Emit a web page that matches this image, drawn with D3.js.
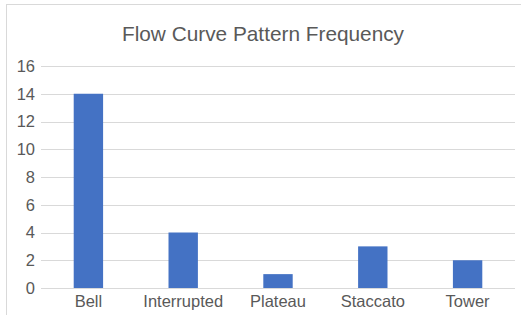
<!DOCTYPE html>
<html>
<head>
<meta charset="utf-8">
<script src="https://cdn.jsdelivr.net/npm/d3@7"></script>
<style>
  body { margin: 0; background: #fff; }
  text { font-family: "Liberation Sans", Arial, sans-serif; fill: #595959; }
</style>
</head>
<body>
<div id="chart"></div>
<script>
// data
var categories = ["Bell", "Interrupted", "Plateau", "Staccato", "Tower"];
var counts = [14, 4, 1, 3, 2];
var yTicks = [0, 2, 4, 6, 8, 10, 12, 14, 16];

var W = 521, H = 315;
var margin = {top: 66, right: 6, bottom: 27, left: 41};
var width = W - margin.left - margin.right,
    height = H - margin.top - margin.bottom;

var svg = d3.select("#chart").append("svg")
    .attr("width", W)
    .attr("height", H);

// chart area border
svg.append("rect")
    .attr("x", 6.5).attr("y", 4.5)
    .attr("width", W + 10).attr("height", H + 10)
    .attr("fill", "none")
    .attr("stroke", "#d9d9d9");

svg.append("text")
    .attr("x", 263)
    .attr("y", 41)
    .attr("text-anchor", "middle")
    .style("font-size", "20.8px")
    .text("Flow Curve Pattern Frequency");

var g = svg.append("g")
    .attr("transform", "translate(" + margin.left + "," + margin.top + ")");

var x = d3.scaleBand()
    .domain(categories)
    .range([0, width])
    .paddingInner(0.69)
    .paddingOuter(0.345);

var y = d3.scaleLinear()
    .domain([0, 16])
    .range([height, 0]);

// gridlines
g.selectAll(".grid")
    .data(yTicks)
  .enter().append("line")
    .attr("class", "grid")
    .attr("x1", 0).attr("x2", width)
    .attr("y1", function(d) { return Math.round(y(d)) + 0.5; })
    .attr("y2", function(d) { return Math.round(y(d)) + 0.5; })
    .attr("stroke", "#d9d9d9")
    .attr("stroke-width", 1);

// bars
g.selectAll(".bar")
    .data(counts)
  .enter().append("rect")
    .attr("class", "bar")
    .attr("x", function(d, i) { return x(categories[i]); })
    .attr("width", x.bandwidth())
    .attr("y", function(d) { return y(d); })
    .attr("height", function(d) { return height - y(d); })
    .attr("fill", "#4472c4");

// y axis labels
var yAxis = g.append("g")
    .call(d3.axisLeft(y).tickValues(yTicks).tickSize(0).tickPadding(6));
yAxis.select(".domain").remove();
yAxis.selectAll("text")
    .style("font-size", "16.5px")
    .style("font-family", "'Liberation Sans', Arial, sans-serif")
    .attr("fill", "#595959");

// x axis labels
var xAxis = g.append("g")
    .attr("transform", "translate(0," + height + ")")
    .call(d3.axisBottom(x).tickSize(0).tickPadding(7));
xAxis.select(".domain").remove();
xAxis.selectAll("text")
    .style("font-size", "16.5px")
    .style("font-family", "'Liberation Sans', Arial, sans-serif")
    .attr("fill", "#595959");
</script>
</body>
</html>
